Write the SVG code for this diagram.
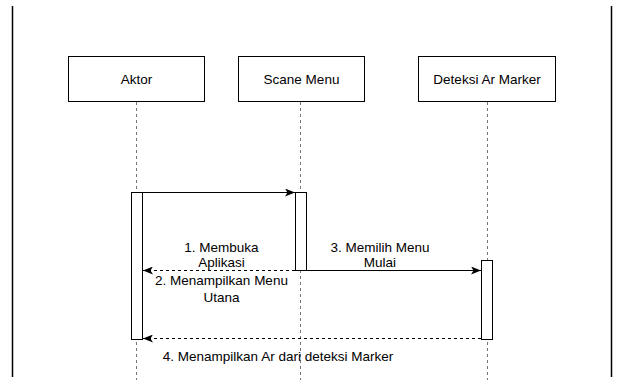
<svg xmlns="http://www.w3.org/2000/svg" width="617" height="380" viewBox="0 0 617 380">
  <style>
    .box { fill: #fff; stroke: #000; stroke-width: 1; }
    .act { fill: #fff; stroke: #000; stroke-width: 1; }
    .life { stroke: #777; stroke-width: 1; stroke-dasharray: 3 3; fill: none; }
    .msg { stroke: #000; stroke-width: 1; fill: none; }
    .ret { stroke: #000; stroke-width: 1; fill: none; stroke-dasharray: 3 3; }
    .border { stroke: #000; stroke-width: 1.5; }
    text { font-family: "Liberation Sans", Arial, sans-serif; font-size: 13.5px; fill: #000; text-anchor: middle; }
  </style>
  <defs>
    <marker id="arr" viewBox="0 0 10 8" refX="10" refY="4" markerWidth="10" markerHeight="8" markerUnits="userSpaceOnUse" orient="auto">
      <path d="M0,0 L10,4 L0,8 L2.5,4 z" fill="#000"/>
    </marker>
  </defs>
  <rect width="617" height="380" fill="#fff"/>
  <g id="frame">
    <line class="border" x1="12.5" y1="6" x2="12.5" y2="377"/>
    <line class="border" x1="611.5" y1="6" x2="611.5" y2="377"/>
  </g>
  <g id="aktor">
    <line class="life" x1="136.5" y1="102" x2="136.5" y2="380"/>
    <rect class="box" x="68.5" y="56.5" width="136" height="45"/>
    <text x="136.5" y="84">Aktor</text>
    <rect class="act" x="131.5" y="192.5" width="11" height="147"/>
  </g>
  <g id="scane-menu">
    <line class="life" x1="300.5" y1="102" x2="300.5" y2="380"/>
    <rect class="box" x="238.5" y="56.5" width="126" height="45"/>
    <text x="301.5" y="84">Scane Menu</text>
    <rect class="act" x="295.5" y="192.5" width="11" height="78"/>
  </g>
  <g id="deteksi-ar-marker">
    <line class="life" x1="487.5" y1="102" x2="487.5" y2="380"/>
    <rect class="box" x="418.5" y="56.5" width="137" height="45"/>
    <text x="487" y="84">Deteksi Ar Marker</text>
    <rect class="act" x="481.5" y="260.5" width="11" height="79"/>
  </g>
  <g id="connectors">
    <line class="msg" x1="142.5" y1="192.5" x2="295" y2="192.5" marker-end="url(#arr)"/>
    <line class="ret" x1="295" y1="270.5" x2="143" y2="270.5" marker-end="url(#arr)"/>
    <line class="msg" x1="306.5" y1="270.5" x2="481" y2="270.5" marker-end="url(#arr)"/>
    <line class="ret" x1="481" y1="338.5" x2="143" y2="338.5" marker-end="url(#arr)"/>
    <text x="221.5" y="251.5">1. Membuka</text>
    <text x="221.5" y="267">Aplikasi</text>
    <text x="221.5" y="285">2. Menampilkan Menu</text>
    <text x="221.5" y="301.5">Utana</text>
    <text x="380" y="251.5">3. Memilih Menu</text>
    <text x="380" y="267">Mulai</text>
    <text x="278" y="361">4. Menampilkan Ar dari deteksi Marker</text>
  </g>
</svg>
